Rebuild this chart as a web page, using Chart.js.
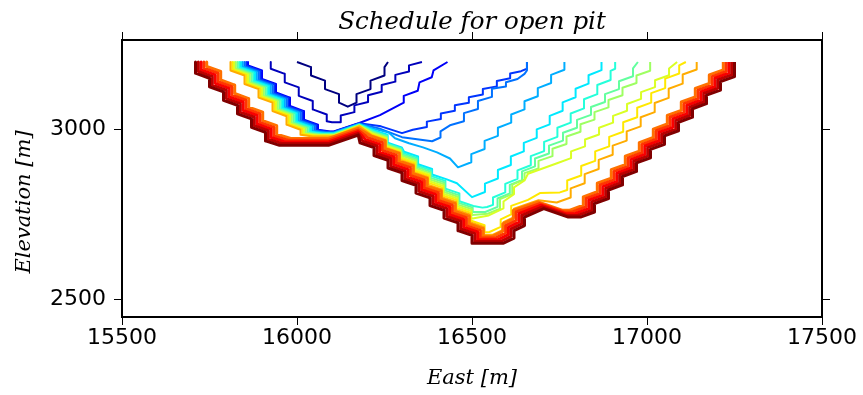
<!DOCTYPE html>
<html>
<head>
<meta charset="utf-8">
<script src="https://cdn.jsdelivr.net/npm/chart.js@4.4.1/dist/chart.umd.min.js"></script>
<style>
  html, body { margin: 0; padding: 0; background: #fff; }
  #pit { display: block; }
</style>
</head>
<body>
<canvas id="pit" width="863" height="395"></canvas>
<script>
// axis ticks
const eastTicks = [15500, 16000, 16500, 17000, 17500];
const elevTicks = [2500, 3000];

// period boundaries (East, Elevation), first pushback -> final shell
const period0 = [[16000,3200],[16040,3185],[16040,3160],[16080,3145],[16080,3120],[16120,3105],[16120,3080],[16145,3068],[16170,3080],[16170,3105],[16210,3120],[16210,3145],[16250,3160],[16250,3185],[16260,3200]];

const period1 = [[15925,3200],[15925,3180],[15965,3165],[15965,3140],[16005,3125],[16005,3100],[16045,3085],[16045,3060],[16085,3045],[16085,3025],[16100,3022],[16125,3022],[16125,3042],[16164,3052],[16164,3072],[16203,3082],[16203,3102],[16242,3112],[16242,3132],[16281,3142],[16281,3162],[16320,3172],[16320,3190],[16357,3200]];

const period2 = [[15860,3200],[15860,3190],[15900,3175],[15900,3150],[15940,3135],[15940,3110],[15980,3095],[15980,3070],[16020,3055],[16020,3030],[16060,3015],[16060,3000],[16095,2995],[16105,2995],[16178,3020],[16237,3043],[16305,3080],[16305,3100],[16345,3115],[16350,3140],[16385,3155],[16390,3175],[16430,3200]];

const period3 = [[15855,3200],[15855,3189],[15895,3174],[15895,3149],[15935,3134],[15935,3109],[15975,3094],[15975,3069],[16015,3054],[16015,3029],[16055,3014],[16055,2999],[16090,2994],[16105,2994],[16178,3019],[16240,3010],[16300,2990],[16331,3000],[16371,3008],[16371,3024],[16411,3032],[16411,3048],[16451,3056],[16451,3072],[16491,3080],[16491,3096],[16531,3104],[16531,3120],[16571,3128],[16571,3144],[16609,3152],[16609,3166],[16640,3173],[16657,3180],[16657,3200]];

const period4 = [[15850,3200],[15850,3187],[15890,3172],[15890,3147],[15930,3132],[15930,3107],[15970,3092],[15970,3067],[16010,3052],[16010,3027],[16050,3012],[16050,2997],[16085,2992],[16105,2992],[16178,3018],[16240,3002],[16300,2978],[16386,2966],[16410,2977],[16410,2995],[16437,3013],[16477,3025],[16477,3049],[16517,3061],[16517,3085],[16557,3097],[16557,3121],[16597,3128],[16597,3140],[16630,3150],[16650,3165],[16657,3175],[16657,3200]];

const period5 = [[15845,3200],[15845,3186],[15885,3171],[15885,3146],[15925,3131],[15925,3106],[15965,3091],[15965,3066],[16005,3051],[16005,3026],[16045,3011],[16045,2996],[16080,2991],[16105,2991],[16178,3017],[16215,3004],[16262,2992],[16280,2975],[16320,2960],[16360,2948],[16400,2933],[16437,2915],[16460,2889],[16498,2904],[16498,2928],[16536,2943],[16536,2967],[16574,2982],[16574,3006],[16612,3021],[16612,3045],[16650,3060],[16650,3084],[16688,3099],[16688,3123],[16726,3138],[16726,3162],[16764,3177],[16764,3200]];

const period6 = [[15840,3200],[15840,3184],[15880,3169],[15880,3144],[15920,3129],[15920,3104],[15960,3089],[15960,3064],[16000,3049],[16000,3024],[16040,3009],[16040,2994],[16075,2989],[16105,2989],[16178,3016],[16219,2999],[16259,2985],[16259,2962],[16299,2948],[16306,2935],[16346,2921],[16346,2898],[16386,2884],[16386,2868],[16426,2854],[16457,2842],[16500,2801],[16537,2816],[16537,2841],[16574,2856],[16574,2881],[16611,2896],[16611,2921],[16648,2936],[16648,2961],[16685,2976],[16685,3001],[16722,3016],[16722,3041],[16759,3056],[16759,3081],[16796,3096],[16796,3121],[16833,3136],[16833,3161],[16870,3176],[16870,3200]];

const period7 = [[15835,3200],[15835,3183],[15875,3168],[15875,3143],[15915,3128],[15915,3103],[15955,3088],[15955,3063],[15995,3048],[15995,3023],[16035,3008],[16035,2993],[16070,2988],[16105,2988],[16178,3015],[16218,2996],[16258,2982],[16258,2959],[16298,2945],[16304,2931],[16344,2917],[16344,2894],[16384,2880],[16384,2863],[16424,2849],[16424,2826],[16464,2812],[16464,2789],[16504,2775],[16530,2770],[16543,2772],[16560,2778],[16560,2800],[16595,2815],[16595,2840],[16630,2855],[16630,2880],[16668,2895],[16668,2922],[16706,2937],[16706,2964],[16744,2979],[16744,3006],[16782,3021],[16782,3048],[16820,3063],[16820,3090],[16858,3105],[16858,3132],[16896,3147],[16896,3174],[16909,3180],[16909,3200]];

const period8 = [[15830,3200],[15830,3181],[15870,3166],[15870,3141],[15910,3126],[15910,3101],[15950,3086],[15950,3061],[15990,3046],[15990,3021],[16030,3006],[16030,2991],[16065,2986],[16105,2986],[16178,3014],[16217,2994],[16257,2980],[16257,2957],[16297,2943],[16302,2927],[16342,2913],[16342,2890],[16382,2876],[16382,2858],[16422,2844],[16422,2821],[16462,2807],[16462,2784],[16502,2770],[16502,2757],[16538,2757],[16573,2772],[16573,2797],[16608,2812],[16608,2837],[16643,2852],[16643,2877],[16680,2892],[16680,2915],[16720,2930],[16720,2953],[16760,2968],[16760,2991],[16800,3006],[16800,3029],[16840,3044],[16840,3067],[16880,3082],[16880,3105],[16920,3120],[16920,3143],[16960,3158],[16960,3181],[16974,3200]];

const period9 = [[15825,3200],[15825,3180],[15865,3165],[15865,3140],[15905,3125],[15905,3100],[15945,3085],[15945,3060],[15985,3045],[15985,3020],[16025,3005],[16025,2990],[16060,2985],[16105,2985],[16178,3013],[16216,2991],[16256,2977],[16256,2954],[16296,2940],[16300,2923],[16340,2909],[16340,2886],[16380,2872],[16380,2853],[16420,2839],[16420,2816],[16460,2802],[16460,2779],[16500,2765],[16500,2748],[16545,2752],[16580,2767],[16580,2795],[16615,2810],[16615,2838],[16650,2853],[16650,2872],[16690,2886],[16690,2908],[16730,2922],[16730,2944],[16770,2958],[16770,2980],[16810,2994],[16810,3016],[16850,3030],[16850,3052],[16890,3066],[16890,3088],[16930,3102],[16930,3124],[16970,3138],[16970,3160],[17009,3174],[17009,3200]];

const period10 = [[15820,3200],[15820,3178],[15860,3163],[15860,3138],[15900,3123],[15900,3098],[15940,3083],[15940,3058],[15980,3043],[15980,3018],[16020,3003],[16020,2988],[16055,2983],[16105,2983],[16178,3012],[16215,2989],[16255,2975],[16255,2952],[16295,2938],[16298,2919],[16338,2905],[16338,2882],[16378,2868],[16378,2848],[16418,2834],[16418,2811],[16458,2797],[16458,2774],[16498,2760],[16498,2737],[16548,2747],[16590,2768],[16590,2788],[16620,2810],[16620,2830],[16650,2850],[16660,2870],[16743,2901],[16783,2916],[16783,2936],[16823,2951],[16823,2971],[16863,2986],[16863,3006],[16903,3021],[16903,3041],[16943,3056],[16943,3076],[16983,3091],[16983,3111],[17023,3126],[17023,3146],[17063,3161],[17063,3181],[17086,3200]];

const period11 = [[15815,3200],[15815,3177],[15855,3162],[15855,3137],[15895,3122],[15895,3097],[15935,3082],[15935,3057],[15975,3042],[15975,3017],[16015,3002],[16015,2987],[16050,2982],[16105,2982],[16178,3011],[16214,2986],[16254,2972],[16254,2949],[16294,2935],[16296,2915],[16336,2901],[16336,2878],[16376,2864],[16376,2843],[16416,2829],[16416,2806],[16456,2792],[16456,2769],[16496,2755],[16496,2732],[16536,2718],[16536,2697],[16550,2698],[16582,2713],[16582,2735],[16612,2750],[16612,2775],[16660,2793],[16694,2813],[16751,2815],[16772,2822],[16772,2850],[16812,2865],[16812,2893],[16852,2908],[16852,2936],[16892,2951],[16892,2979],[16932,2994],[16932,3022],[16972,3037],[16972,3065],[17012,3080],[17012,3108],[17052,3123],[17052,3151],[17092,3166],[17092,3190],[17111,3200]];

const period12 = [[15810,3200],[15810,3175],[15850,3160],[15850,3135],[15890,3120],[15890,3095],[15930,3080],[15930,3055],[15970,3040],[15970,3015],[16010,3000],[16010,2985],[16045,2980],[16105,2980],[16178,3010],[16213,2984],[16253,2970],[16253,2947],[16293,2933],[16294,2911],[16334,2897],[16334,2874],[16374,2860],[16374,2838],[16414,2824],[16414,2801],[16454,2787],[16454,2764],[16494,2750],[16494,2727],[16534,2713],[16534,2690],[16560,2690],[16590,2705],[16590,2727],[16620,2742],[16620,2767],[16690,2792],[16742,2785],[16782,2800],[16782,2827],[16822,2842],[16822,2869],[16862,2884],[16862,2911],[16902,2926],[16902,2953],[16942,2968],[16942,2995],[16982,3010],[16982,3037],[17022,3052],[17022,3079],[17062,3094],[17062,3121],[17102,3136],[17102,3163],[17142,3178],[17142,3200]];

const period13 = [[15742,3200],[15742,3187],[15782,3172],[15782,3147],[15822,3132],[15822,3107],[15862,3092],[15862,3067],[15902,3052],[15902,3027],[15942,3012],[15942,2987],[15982,2974],[16090,2974],[16175,3004],[16212,2981],[16252,2967],[16252,2944],[16292,2930],[16292,2907],[16332,2893],[16332,2870],[16372,2856],[16372,2833],[16412,2819],[16412,2796],[16452,2782],[16452,2759],[16492,2745],[16492,2722],[16532,2708],[16532,2685],[16558,2685],[16588,2700],[16588,2722],[16618,2737],[16618,2762],[16689,2787],[16759,2762],[16778,2762],[16818,2777],[16818,2802],[16858,2817],[16858,2842],[16898,2857],[16898,2882],[16938,2897],[16938,2922],[16978,2937],[16978,2962],[17018,2977],[17018,3002],[17058,3017],[17058,3042],[17098,3057],[17098,3082],[17138,3097],[17138,3122],[17178,3137],[17178,3162],[17218,3177],[17218,3200]];

const period14 = [[15734,3200],[15734,3182],[15774,3167],[15774,3142],[15814,3127],[15814,3102],[15854,3087],[15854,3062],[15894,3047],[15894,3022],[15934,3007],[15934,2982],[15974,2969],[16090,2969],[16175,2999],[16204,2976],[16244,2962],[16244,2939],[16284,2925],[16284,2902],[16324,2888],[16324,2865],[16364,2851],[16364,2828],[16404,2814],[16404,2791],[16444,2777],[16444,2754],[16484,2740],[16484,2717],[16524,2703],[16524,2680],[16566,2680],[16596,2695],[16596,2717],[16626,2732],[16626,2757],[16693,2782],[16763,2757],[16786,2757],[16826,2772],[16826,2797],[16866,2812],[16866,2837],[16906,2852],[16906,2877],[16946,2892],[16946,2917],[16986,2932],[16986,2957],[17026,2972],[17026,2997],[17066,3012],[17066,3037],[17106,3052],[17106,3077],[17146,3092],[17146,3117],[17186,3132],[17186,3157],[17226,3172],[17226,3200]];

const period15 = [[15726,3200],[15726,3177],[15766,3162],[15766,3137],[15806,3122],[15806,3097],[15846,3082],[15846,3057],[15886,3042],[15886,3017],[15926,3002],[15926,2977],[15966,2964],[16090,2964],[16175,2994],[16196,2971],[16236,2957],[16236,2934],[16276,2920],[16276,2897],[16316,2883],[16316,2860],[16356,2846],[16356,2823],[16396,2809],[16396,2786],[16436,2772],[16436,2749],[16476,2735],[16476,2712],[16516,2698],[16516,2675],[16574,2675],[16604,2690],[16604,2712],[16634,2727],[16634,2752],[16697,2777],[16767,2752],[16794,2752],[16834,2767],[16834,2792],[16874,2807],[16874,2832],[16914,2847],[16914,2872],[16954,2887],[16954,2912],[16994,2927],[16994,2952],[17034,2967],[17034,2992],[17074,3007],[17074,3032],[17114,3047],[17114,3072],[17154,3087],[17154,3112],[17194,3127],[17194,3152],[17234,3167],[17234,3200]];

const period16 = [[15718,3200],[15718,3172],[15758,3157],[15758,3132],[15798,3117],[15798,3092],[15838,3077],[15838,3052],[15878,3037],[15878,3012],[15918,2997],[15918,2972],[15958,2959],[16090,2959],[16175,2989],[16188,2966],[16228,2952],[16228,2929],[16268,2915],[16268,2892],[16308,2878],[16308,2855],[16348,2841],[16348,2818],[16388,2804],[16388,2781],[16428,2767],[16428,2744],[16468,2730],[16468,2707],[16508,2693],[16508,2670],[16582,2670],[16612,2685],[16612,2707],[16642,2722],[16642,2747],[16701,2772],[16771,2747],[16802,2747],[16842,2762],[16842,2787],[16882,2802],[16882,2827],[16922,2842],[16922,2867],[16962,2882],[16962,2907],[17002,2922],[17002,2947],[17042,2962],[17042,2987],[17082,3002],[17082,3027],[17122,3042],[17122,3067],[17162,3082],[17162,3107],[17202,3122],[17202,3147],[17242,3162],[17242,3200]];

const period17 = [[15710,3200],[15710,3167],[15750,3152],[15750,3127],[15790,3112],[15790,3087],[15830,3072],[15830,3047],[15870,3032],[15870,3007],[15910,2992],[15910,2967],[15950,2954],[16090,2954],[16175,2984],[16180,2961],[16220,2947],[16220,2924],[16260,2910],[16260,2887],[16300,2873],[16300,2850],[16340,2836],[16340,2813],[16380,2799],[16380,2776],[16420,2762],[16420,2739],[16460,2725],[16460,2702],[16500,2688],[16500,2665],[16590,2665],[16620,2680],[16620,2702],[16650,2717],[16650,2742],[16705,2767],[16775,2742],[16810,2742],[16850,2757],[16850,2782],[16890,2797],[16890,2822],[16930,2837],[16930,2862],[16970,2877],[16970,2902],[17010,2917],[17010,2942],[17050,2957],[17050,2982],[17090,2997],[17090,3022],[17130,3037],[17130,3062],[17170,3077],[17170,3102],[17210,3117],[17210,3142],[17250,3157],[17250,3200]];

const periods = [period0, period1, period2, period3, period4, period5, period6, period7, period8,
  period9, period10, period11, period12, period13, period14, period15, period16, period17];
const lastPeriod = periods.length - 1;
const finalShellFrom = 13; // the last few periods all end on the ultimate pit wall

// matplotlib "jet"
function jet(t) {
  const c = v => Math.round(255 * Math.max(0, Math.min(1, v)));
  const r = c(Math.min(4 * t - 1.5, -4 * t + 4.5));
  const g = c(Math.min(4 * t - 0.5, -4 * t + 3.5));
  const b = c(Math.min(4 * t + 0.5, -4 * t + 2.5));
  return `rgb(${r},${g},${b})`;
}

const datasets = periods.map((pts, i) => ({
  data: pts.map(p => ({ x: p[0], y: p[1] })),
  borderColor: jet(i / lastPeriod),
  borderWidth: i >= finalShellFrom ? 3 : 2,
  borderJoinStyle: 'round',
  pointRadius: 0,
  fill: false,
  tension: 0,
  order: lastPeriod - i + 1
}));

const black = '#000';
const tickFont = { family: 'DejaVu Sans', size: 22 };
const labelFont = { family: 'DejaVu Serif', style: 'italic', size: 21 };
const outerTicks = { drawOnChartArea: false, drawTicks: true, tickLength: 8, color: black, tickWidth: 1 };
const frame = { display: true, color: black, width: 2 };

function setTicks(values) {
  return scale => { scale.ticks = values.map(v => ({ value: v })); };
}

// y label sits a bit below the axis centre, drawn by hand
const elevationLabel = {
  id: 'elevationLabel',
  afterDraw(chart) {
    const ctx = chart.ctx;
    ctx.save();
    ctx.translate(25, 202);
    ctx.rotate(-Math.PI / 2);
    ctx.font = 'italic 21px "DejaVu Serif"';
    ctx.fillStyle = black;
    ctx.textAlign = 'center';
    ctx.textBaseline = 'middle';
    ctx.fillText('Elevation [m]', 0, 0);
    ctx.restore();
  }
};

new Chart(document.getElementById('pit'), {
  type: 'line',
  data: { datasets },
  plugins: [elevationLabel],
  options: {
    responsive: false,
    animation: false,
    layout: { padding: 0 },
    plugins: { legend: { display: false }, tooltip: { enabled: false } },
    scales: {
      x: {
        type: 'linear', position: 'bottom', min: 15500, max: 17500,
        afterBuildTicks: setTicks(eastTicks),
        afterFit: s => { s.height = 78; },
        ticks: { color: black, font: tickFont, padding: 0, maxRotation: 0, callback: v => String(v) },
        grid: outerTicks, border: frame,
        title: { display: true, text: 'East [m]', color: black, font: labelFont, padding: { top: 0, bottom: 4 } }
      },
      xTop: {
        type: 'linear', position: 'top', min: 15500, max: 17500,
        afterBuildTicks: setTicks(eastTicks),
        afterFit: s => { s.height = 40; },
        ticks: { display: false },
        grid: outerTicks, border: frame,
        title: { display: true, text: 'Schedule for open pit', color: black,
          font: { family: 'DejaVu Serif', style: 'italic', size: 24.5 }, padding: { top: 8, bottom: 0 } }
      },
      y: {
        type: 'linear', position: 'left', min: 2447, max: 3265,
        afterBuildTicks: setTicks(elevTicks),
        afterFit: s => { s.width = 122; },
        ticks: { color: black, font: tickFont, padding: 8, callback: v => String(v) },
        grid: outerTicks, border: frame
      },
      yRight: {
        type: 'linear', position: 'right', min: 2447, max: 3265,
        afterBuildTicks: setTicks(elevTicks),
        afterFit: s => { s.width = 41; },
        ticks: { display: false },
        grid: outerTicks, border: frame
      }
    }
  }
});
</script>
</body>
</html>
